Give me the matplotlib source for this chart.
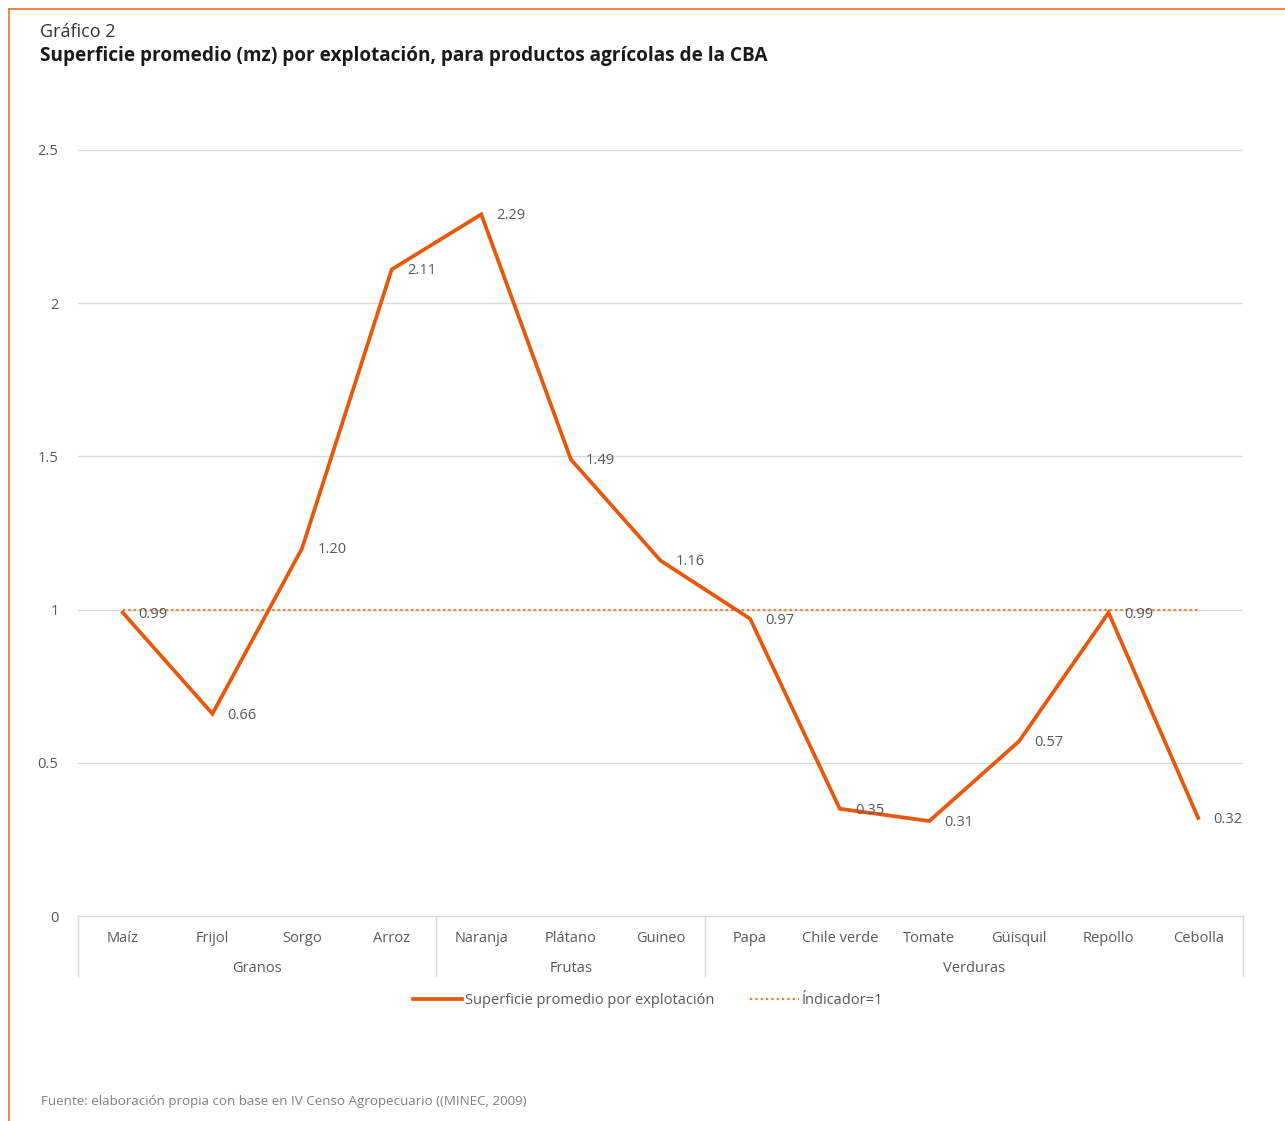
import matplotlib
matplotlib.use("Agg")
import matplotlib.pyplot as plt
from matplotlib.lines import Line2D

plt.rcParams['font.family'] = ['Open Sans', 'DejaVu Sans']

categories = ["Maíz", "Frijol", "Sorgo", "Arroz", "Naranja", "Plátano", "Guineo",
              "Papa", "Chile verde", "Tomate", "Güisquil", "Repollo", "Cebolla"]
groups = ["Granos", "Frutas", "Verduras"]
group_sizes = [4, 3, 6]
superficie = [0.99, 0.66, 1.20, 2.11, 2.29, 1.49, 1.16, 0.97, 0.35, 0.31, 0.57, 0.99, 0.32]
indicador = [1] * len(categories)
yticks = [0, 0.5, 1, 1.5, 2, 2.5]
ytick_labels = ["0", "0.5", "1", "1.5", "2", "2.5"]

W, H = 1285, 1121
fig = plt.figure(figsize=(W / 100, H / 100), dpi=100)
ax = fig.add_axes([78 / W, (H - 916) / H, (1243 - 78) / W, (916 - 150) / H])

line_c = "#E8580C"
txt_c = "#595959"
grid_c = "#D9D9D9"

x = list(range(len(categories)))
ind_line, = ax.plot(x, indicador, color="#ED7D31", lw=1.6, linestyle=(0, (1, 1.4)),
                    zorder=2)
sup_line, = ax.plot(x, superficie, color=line_c, lw=2.7, solid_joinstyle="miter",
                    zorder=3)

for xi, v in zip(x, superficie):
    ax.annotate(f"{v:.2f}", (xi, v), xytext=(11, -1), textcoords="offset points",
                va="center", ha="left", fontsize=10.5, color=txt_c, zorder=4)

ax.set_xlim(-0.5, len(categories) - 0.5)
ax.set_ylim(0, 2.5)
ax.set_yticks(yticks)
ax.set_yticklabels(ytick_labels)
ax.set_xticks([])
ax.tick_params(axis="y", length=0, pad=14, labelsize=10.5, labelcolor=txt_c)
for yt in yticks[1:]:
    ax.axhline(yt, color=grid_c, lw=1, zorder=1)
for s in ["top", "right", "left"]:
    ax.spines[s].set_visible(False)
ax.spines["bottom"].set_color(grid_c)
ax.spines["bottom"].set_linewidth(1)

# category labels and group labels below the axis
trans = ax.get_xaxis_transform()
for xi, c in zip(x, categories):
    ax.text(xi, -22 / 766, c, transform=trans, ha="center", va="center",
            fontsize=10.5, color=txt_c, clip_on=False)
start = 0
bounds = [-0.5]
for g, n in zip(groups, group_sizes):
    center = start + (n - 1) / 2
    ax.text(center, -52 / 766, g, transform=trans, ha="center", va="center",
            fontsize=10.5, color=txt_c, clip_on=False)
    start += n
    bounds.append(start - 0.5)
for b in bounds:
    ax.add_line(Line2D([b, b], [0, -60 / 766], transform=trans, color=grid_c,
                       lw=1, clip_on=False))

# legend
fig.legend(handles=[sup_line, ind_line],
           labels=["Superficie promedio por explotación", "Índicador=1"],
           loc="center", bbox_to_anchor=(648 / W, 1 - 1001 / H), ncol=2,
           frameon=False, fontsize=10.5, handlelength=3.4, handletextpad=0.2,
           columnspacing=2.4, labelcolor=txt_c)

# title, subtitle and source
fig.text(40 / W, 1 - 32 / H, "Gráfico 2", fontsize=13, color="#333333",
         ha="left", va="center")
fig.text(40 / W, 1 - 56 / H,
         "Superficie promedio (mz) por explotación, para productos agrícolas de la CBA",
         fontsize=13.7, fontweight="bold", color="#1a1a1a", ha="left", va="center")
fig.text(41 / W, 1 - 1102 / H,
         "Fuente: elaboración propia con base en IV Censo Agropecuario ((MINEC, 2009)",
         fontsize=9.6, color="#808080", ha="left", va="center")

# orange page frame
frame_c = "#F07A3C"
fig.add_artist(Line2D([9 / W, 1], [1 - 9 / H, 1 - 9 / H], transform=fig.transFigure,
                      color=frame_c, lw=1.3))
fig.add_artist(Line2D([9 / W, 9 / W], [0, 1 - 9 / H], transform=fig.transFigure,
                      color=frame_c, lw=1.3))

fig.savefig("out.png", dpi=100, facecolor="white")
